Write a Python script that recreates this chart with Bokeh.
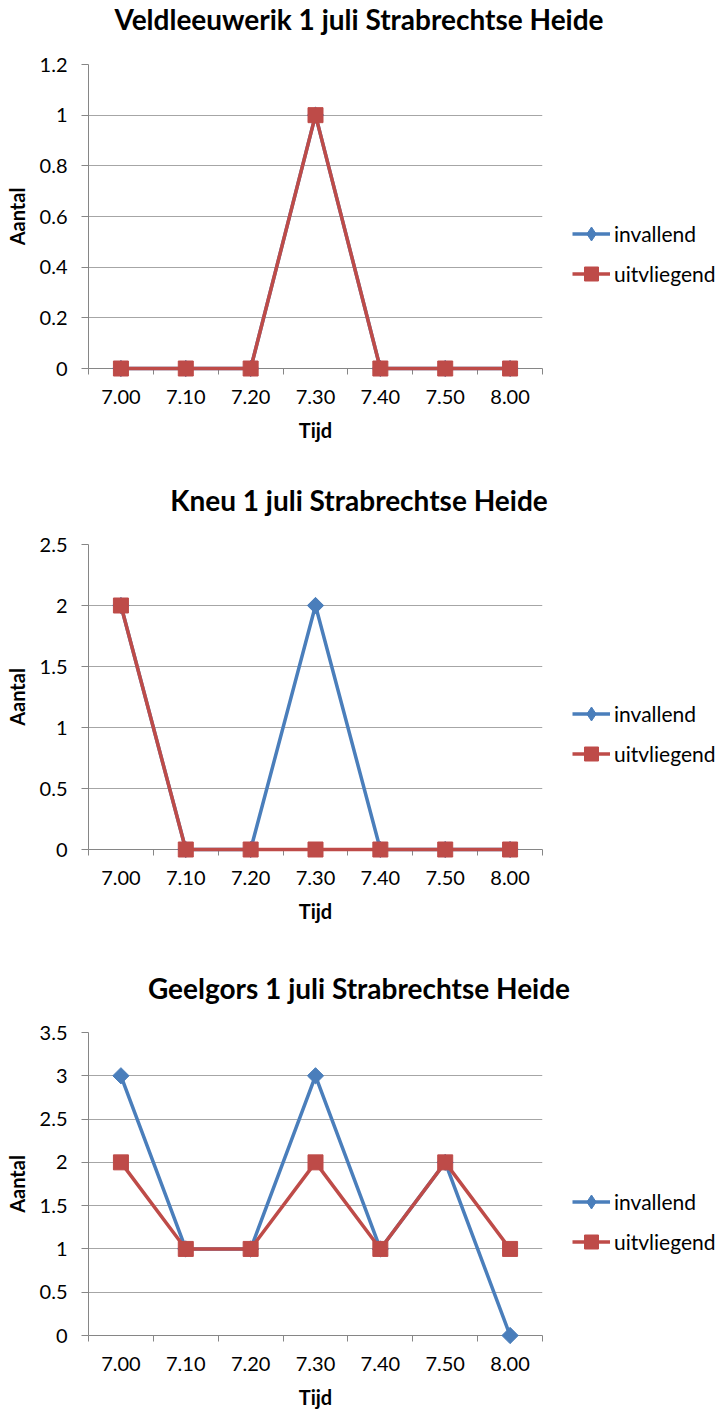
import math
from bokeh.plotting import figure
from bokeh.layouts import column
from bokeh.models import FixedTicker, Range1d, Legend, LegendItem, Div, NumeralTickFormatter
from bokeh.embed import file_html
from bokeh.resources import INLINE

# ---------------- data ----------------
times = ["7.00", "7.10", "7.20", "7.30", "7.40", "7.50", "8.00"]

title_veld = "Veldleeuwerik 1 juli Strabrechtse Heide"
veld_invallend = [0, 0, 0, 1, 0, 0, 0]
veld_uitvliegend = [0, 0, 0, 1, 0, 0, 0]

title_kneu = "Kneu 1 juli Strabrechtse Heide"
kneu_invallend = [2, 0, 0, 2, 0, 0, 0]
kneu_uitvliegend = [2, 0, 0, 0, 0, 0, 0]

title_geel = "Geelgors 1 juli Strabrechtse Heide"
geel_invallend = [3, 1, 1, 3, 1, 2, 0]
geel_uitvliegend = [2, 1, 1, 2, 1, 2, 1]

y_ticks_veld = [0, 0.2, 0.4, 0.6, 0.8, 1, 1.2]
y_ticks_kneu = [0, 0.5, 1, 1.5, 2, 2.5]
y_ticks_geel = [0, 0.5, 1, 1.5, 2, 2.5, 3, 3.5]

series_names = ["invallend", "uitvliegend"]
x_label = "Tijd"
y_label = "Aantal"

# ---------------- style ----------------
BLUE = "#4A7EBB"
RED = "#BE4B48"
AXIS = "#868686"
GRID = "#A6A6A6"
FONT = "Lato"
W = 718
NAN = float("nan")


def make_title(text):
    return Div(text=text, width=W, height=38, margin=0,
               styles={"text-align": "center", "font-family": FONT,
                       "font-weight": "bold", "font-size": "28px",
                       "line-height": "38px", "color": "black",
                       "white-space": "nowrap"})


def make_chart(inv, uit, yticks, frame_h, top, bottom):
    n = len(times)
    xs = list(range(n))
    p = figure(frame_width=454, frame_height=frame_h,
               x_range=Range1d(-0.5, n - 0.5), y_range=Range1d(yticks[0], yticks[-1]),
               output_backend="svg", toolbar_location=None,
               min_border_left=88, min_border_right=W - 88 - 454,
               min_border_top=top, min_border_bottom=bottom,
               outline_line_color=None, background_fill_color="white",
               border_fill_color="white", margin=0)

    # x axis: labels in category centres, tick marks on boundaries
    xa = p.xaxis[0]
    xa.ticker = FixedTicker(ticks=xs, minor_ticks=[i - 0.5 for i in range(n + 1)])
    xa.major_label_overrides = {i: t for i, t in enumerate(times)}
    xa.major_tick_line_color = None
    xa.major_tick_out = 0
    xa.major_tick_in = 0
    xa.minor_tick_out = 6
    xa.minor_tick_in = 0
    xa.minor_tick_line_color = AXIS
    xa.axis_line_color = AXIS
    xa.major_label_standoff = 15
    xa.major_label_text_font = FONT
    xa.major_label_text_font_size = "20px"
    xa.major_label_text_color = "black"
    xa.axis_label = x_label
    xa.axis_label_text_font = FONT
    xa.axis_label_text_font_style = "bold"
    xa.axis_label_text_font_size = "20px"
    xa.axis_label_text_color = "black"
    xa.axis_label_standoff = 11

    ya = p.yaxis[0]
    ya.ticker = FixedTicker(ticks=yticks)
    ya.formatter = NumeralTickFormatter(format="0.[0]")
    ya.major_tick_out = 7
    ya.major_tick_in = 0
    ya.major_tick_line_color = AXIS
    ya.minor_tick_line_color = None
    ya.axis_line_color = AXIS
    ya.major_label_standoff = 14
    ya.major_label_text_font = FONT
    ya.major_label_text_font_size = "20px"
    ya.major_label_text_color = "black"
    ya.axis_label = y_label
    ya.axis_label_text_font = FONT
    ya.axis_label_text_font_style = "bold"
    ya.axis_label_text_font_size = "20px"
    ya.axis_label_text_color = "black"
    ya.axis_label_standoff = 8

    p.xgrid.grid_line_color = None
    p.ygrid.grid_line_color = GRID
    p.ygrid.grid_line_width = 1

    l1 = p.line(xs, inv, line_color=BLUE, line_width=3.5, level="overlay")
    p.scatter(xs, inv, marker="square", angle=math.pi / 4, size=11.5,
              fill_color=BLUE, line_color=BLUE, level="overlay")
    # legend-only swatch for the diamond marker (legend glyphs ignore rotation)
    d1 = p.scatter([NAN], [NAN], marker="diamond", size=15, fill_color=BLUE,
                   line_color=BLUE)
    l2 = p.line(xs, uit, line_color=RED, line_width=3.5, level="overlay")
    s2 = p.scatter(xs, uit, marker="square", size=15, fill_color=RED,
                   line_color=RED, level="overlay")

    legend = Legend(items=[LegendItem(label=series_names[0], renderers=[l1, d1]),
                           LegendItem(label=series_names[1], renderers=[l2, s2])],
                    location=(30, frame_h - 227),
                    glyph_width=38, glyph_height=35, label_height=35,
                    spacing=5, padding=0, margin=0, label_standoff=4,
                    border_line_color=None, background_fill_alpha=0,
                    label_text_font=FONT, label_text_font_size="21px",
                    label_text_color="black")
    p.add_layout(legend, "right")
    return p


t1 = make_title(title_veld)
p1 = make_chart(veld_invallend, veld_uitvliegend, y_ticks_veld, 304, 26, 113)
t2 = make_title(title_kneu)
p2 = make_chart(kneu_invallend, kneu_uitvliegend, y_ticks_kneu, 305, 25, 120)
t3 = make_title(title_geel)
p3 = make_chart(geel_invallend, geel_uitvliegend, y_ticks_geel, 303, 25, 72)

layout = column(t1, p1, t2, p2, t3, p3, spacing=0)
open("out.html", "w").write(file_html(layout, INLINE))
